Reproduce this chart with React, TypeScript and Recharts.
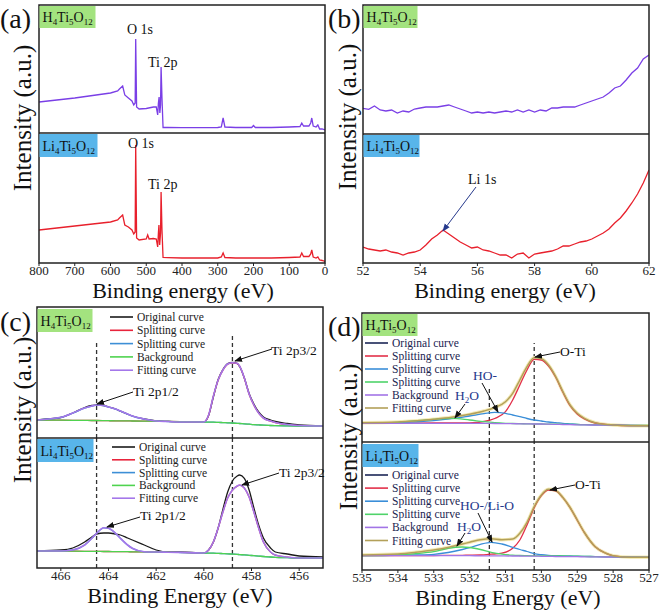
import { LineChart, Line, XAxis, YAxis, ReferenceLine } from 'recharts';

const SERIF = '"Liberation Serif", "Times New Roman", serif';

// ---------- (a) survey spectra ----------
const surveyEnergyH = [800, 750, 700, 650, 600, 580, 575, 566, 560, 550, 540, 535, 531, 529.5, 527, 520, 500, 480, 472, 468, 466, 464, 462, 460, 458.5, 456, 453, 440, 400, 300, 290, 285, 280, 250, 205, 200, 195, 150, 100, 70, 65, 60, 45, 40, 37, 33, 25, 20, 15, 8, 0];
const surveyH = [31, 33, 35, 37.5, 40, 42, 44, 47, 38, 35, 32, 28, 30, 94, 26, 24, 24.5, 26, 26, 18, 30, 36, 20, 28, 66, 35, 5.5, 5.5, 5.3, 5.5, 6, 15, 6, 5.5, 5.5, 7.5, 5.5, 5.5, 6, 6.5, 10, 7, 7, 10, 15, 7, 6, 8, 4, 4, 3];
const surveyEnergyL = [800, 750, 700, 650, 600, 580, 575, 566, 560, 550, 540, 535, 531, 529.5, 527, 520, 500, 496, 492, 480, 472, 468, 466, 464.5, 462.5, 460, 458.5, 456, 453, 440, 400, 300, 290, 285, 280, 250, 150, 100, 70, 65, 60, 45, 40, 37, 33, 25, 20, 15, 8, 0];
const surveyL = [33, 35, 37, 39, 41, 43, 45, 48, 38, 36, 33, 29, 31, 118, 25, 23, 24, 28, 24, 24.5, 24, 16, 30, 38, 18, 30, 71, 33, 5.5, 5.3, 5, 5, 6, 10, 5.5, 5, 5, 5.5, 6, 10, 6.5, 6.5, 9, 13, 6, 5, 6, 3, 2.5, 1.5];
const surveyTicks = [800, 700, 600, 500, 400, 300, 200, 100, 0];

// ---------- (b) Li 1s region ----------
const li1sEnergy = [52, 52.2, 52.4, 52.6, 52.8, 53, 53.2, 53.4, 53.6, 53.8, 54, 54.2, 54.4, 54.6, 54.8, 55, 55.2, 55.4, 55.6, 55.8, 56, 56.2, 56.4, 56.6, 56.8, 57, 57.2, 57.4, 57.6, 57.8, 58, 58.2, 58.4, 58.6, 58.8, 59, 59.2, 59.4, 59.6, 59.8, 60, 60.2, 60.4, 60.6, 60.8, 61, 61.2, 61.4, 61.6, 61.8, 62];
const li1sH = [25.7, 24.7, 28, 24, 23, 24, 21, 23, 22, 25, 26, 27, 27, 27, 28, 29, 27, 25, 23, 21, 22, 21, 22, 21, 22, 23, 22, 24, 22, 24, 22, 24, 23, 26, 26, 27, 27, 27, 29, 31, 33, 35, 37, 41, 46, 48, 54, 61, 66, 75, 79];
const li1sL = [16, 14, 13, 12, 13, 11, 10, 8, 10, 11, 13, 18, 24, 28, 33, 29, 25, 21, 18, 15, 16, 13, 12, 10, 8, 8, 5, 9, 10, 5, 9, 10, 11, 12, 14, 17, 17, 19, 21, 22, 24, 27, 30, 34, 40, 45, 52, 60, 69, 80, 93];
const li1sTicks = [52, 54, 56, 58, 60, 62];

// ---------- (c) Ti 2p ----------
const ti2pEnergy = [467, 466, 465.5, 465, 464.7, 464.5, 464.2, 464, 463.7, 463.5, 463.2, 463, 462.5, 462, 461.5, 461, 460, 459.8, 459.6, 459.4, 459.2, 459, 458.8, 458.6, 458.5, 458.3, 458.1, 457.9, 457.7, 457.5, 457.2, 457, 456.5, 456, 455];
const ti2pOrigH = [18.2, 20.5, 25, 30.5, 32.5, 33.2, 32.5, 31, 29, 26.8, 23.8, 22, 19, 17.2, 16.6, 16.2, 16, 22.5, 41, 58.5, 68.5, 74.5, 75.5, 74.5, 71.5, 60, 44.5, 34, 26, 21, 18, 16.5, 14.5, 13, 12.2];
const ti2pRedH = [18, 17.8, 17.7, 17.6, 17.5, 17.5, 17.4, 17.3, 17.2, 17.2, 17.1, 17, 16.9, 16.8, 16.6, 16.4, 16, 22.8, 41.8, 57.8, 67.8, 73.8, 75.1, 74.5, 71.8, 59.8, 43.8, 32.8, 24.8, 19.8, 16.8, 15.3, 13.3, 12.3, 12];
const ti2pBlueH = [18, 20.5, 24.8, 29.8, 31.8, 32.8, 32.3, 30.8, 28.8, 26.8, 23.8, 21.8, 18.8, 17, 16.5, 16.2, 16, 15.9, 15.8, 15.6, 15.4, 15.2, 15, 14.7, 14.5, 14.2, 13.8, 13.4, 13.1, 12.8, 12.5, 12.3, 12.1, 12, 12];
const ti2pBgH = [18, 17.8, 17.7, 17.6, 17.5, 17.5, 17.4, 17.3, 17.2, 17.2, 17.1, 17, 16.9, 16.8, 16.6, 16.4, 16, 15.9, 15.8, 15.6, 15.4, 15.2, 15, 14.7, 14.5, 14.2, 13.8, 13.4, 13.1, 12.8, 12.5, 12.3, 12.1, 12, 12];
const ti2pFitH = [18, 20.7, 25, 30, 32, 33, 32.5, 31, 29, 27, 24, 22, 19, 17, 16.5, 16, 16, 23, 42, 58, 68, 74, 75.3, 74.7, 72, 60, 44, 33, 25, 20, 17, 15.5, 13.5, 12.5, 12];
const ti2pOrigL = [17, 18, 20, 26, 31, 34, 35, 35, 34, 33, 30, 28, 23, 18, 16, 16, 15, 18, 26, 40, 58.7, 76, 87, 92, 93, 89.7, 78, 60, 43, 30, 20, 16, 14, 12, 11];
const ti2pRedL = [17, 16.9, 16.8, 16.7, 16.6, 16.6, 16.5, 16.5, 16.4, 16.4, 16.3, 16.2, 16.1, 16, 15.8, 15.6, 15, 17.9, 25.9, 39.9, 55.9, 69.9, 77.9, 81.9, 82.9, 79.9, 70.9, 55.9, 39.9, 25.9, 15.9, 12.9, 10.9, 10, 10];
const ti2pBlueL = [17, 17, 18, 22.9, 29.6, 34.6, 40.2, 39.6, 34.6, 29.6, 22.9, 19.6, 16.2, 15.9, 15.7, 15.5, 15, 14.9, 14.8, 14.6, 14.4, 14.2, 13.9, 13.6, 13.4, 13.1, 12.7, 12.3, 11.9, 11.5, 11, 10.7, 10.3, 10, 10];
const ti2pBgL = [17, 16.9, 16.8, 16.7, 16.6, 16.6, 16.5, 16.5, 16.4, 16.4, 16.3, 16.2, 16.1, 16, 15.8, 15.6, 15, 14.9, 14.8, 14.6, 14.4, 14.2, 13.9, 13.6, 13.4, 13.1, 12.7, 12.3, 11.9, 11.5, 11, 10.7, 10.3, 10, 10];
const ti2pFitL = [17, 17, 18, 23, 29.7, 34.7, 40.3, 39.7, 34.7, 29.7, 23, 19.7, 16.3, 16, 15.8, 15.6, 15, 18, 26, 40, 56, 70, 78, 82, 83, 80, 71, 56, 40, 26, 16, 13, 11, 10, 10];
const ti2pTicks = [466, 464, 462, 460, 458, 456];
const ti2pPeaks = [464.5, 458.8];

// ---------- (d) O 1s ----------
const o1sEnergyH = [535, 534, 533, 532.5, 532, 531.6, 531.3, 531, 530.8, 530.6, 530.4, 530.2, 530, 529.8, 529.6, 529.4, 529.2, 529, 528.8, 528.5, 528, 527.5, 527];
const o1sOrigH = [19.5, 20.2, 22.5, 24.5, 27.5, 31, 34.8, 40.8, 49.5, 62.5, 76, 84.6, 83, 76.5, 65, 50, 37.5, 29, 24, 19.6, 17.2, 16.4, 16.2];
const o1sRedH = [18.7, 18.8, 19, 19, 19.2, 20.5, 23.5, 30.3, 42, 57, 72, 82.7, 82, 76, 64.7, 49.7, 36.3, 28, 23, 19, 17, 16.3, 16.3];
const o1sBlueH = [18.7, 19.3, 21.3, 23.3, 26, 28.3, 29.7, 28.7, 27, 25.3, 23.5, 22, 21, 20, 19.4, 18.7, 18.2, 17.7, 17.4, 17.2, 17, 16.5, 16.3];
const o1sGreenH = [18.7, 19.7, 22.7, 23.7, 22, 20.3, 19.3, 18.7, 18.5, 18.3, 18.2, 18, 18, 17.9, 17.8, 17.7, 17.6, 17.5, 17.4, 17.2, 17, 16.7, 16.5];
const o1sBgH = [18.7, 18.7, 18.7, 18.7, 18.7, 18.6, 18.5, 18.4, 18.3, 18.2, 18.1, 18, 18, 17.8, 17.6, 17.5, 17.3, 17.2, 17.1, 17, 17, 16.5, 16.3];
const o1sFitH = [19.3, 20, 22.7, 24.7, 27.7, 31, 34.5, 40.3, 48.7, 62, 75.3, 84.3, 83.3, 77, 65.3, 50.3, 37, 28.7, 23.7, 19.3, 17, 16.3, 16.3];
const o1sEnergyL = [535, 534, 533.5, 533, 532.6, 532.2, 532, 531.7, 531.4, 531.1, 530.8, 530.6, 530.4, 530.2, 530, 529.8, 529.6, 529.4, 529.2, 529, 528.8, 528.5, 528.2, 528, 527.5, 527];
const o1sOrigL = [15.2, 16.1, 17.8, 20.2, 22.8, 26.3, 28, 30.6, 31.4, 30.4, 31.2, 37, 48, 63.8, 75.5, 81, 79.8, 72.8, 62.8, 50.3, 37.8, 23.6, 16.9, 14.4, 12.8, 12.7];
const o1sRedL = [14.3, 14.3, 14.4, 14.5, 14.6, 14.7, 14.8, 15, 15.8, 16.8, 21.7, 30, 45, 62.3, 74.3, 80, 79.2, 72.3, 62.3, 49.8, 37.3, 23.2, 16.6, 14.2, 12.7, 12.7];
const o1sBlueL = [14.3, 14.6, 15, 15.7, 17.5, 20.5, 22.3, 25.7, 27.7, 26, 22.7, 20.5, 18.5, 16.3, 15.3, 14.7, 14.4, 14.2, 14, 13.8, 13.6, 13.4, 13.2, 13, 12.8, 12.7];
const o1sGreenL = [14.3, 15, 16.3, 18.3, 21.7, 23, 22.5, 20.5, 17.7, 15.8, 14.8, 14.5, 14.3, 14.2, 14.2, 14.1, 14, 14, 13.9, 13.8, 13.6, 13.4, 13.2, 13, 12.8, 12.7];
const o1sBgL = [14.3, 14.3, 14.3, 14.3, 14.3, 14.3, 14.3, 14.2, 14.2, 14.1, 14, 14, 13.9, 13.9, 13.7, 13.6, 13.5, 13.4, 13.4, 13.3, 13.2, 13.1, 13, 13, 12.8, 12.7];
const o1sFitL = [15, 16, 17.7, 20, 22.5, 26, 27.7, 30.3, 31.2, 30.2, 31, 36.7, 47.7, 63.3, 75, 80.7, 79.5, 72.5, 62.5, 50, 37.5, 23.3, 16.7, 14.3, 12.7, 12.7];
const o1sTicks = [535, 534, 533, 532, 531, 530, 529, 528, 527];
const o1sPeaks = [531.45, 530.2];

const legendC = ['Original curve', 'Splitting curve', 'Splitting curve', 'Background', 'Fitting curve'];
const legendD = ['Original curve', 'Splitting curve', 'Splitting curve', 'Splitting curve', 'Background', 'Fitting curve'];

const PURPLE = '#7a3fe6';
const RED = '#e8202c';
const C_COLORS = ['#1a1a1a', '#e8243c', '#3d8fd6', '#4fd34f', '#a477ea'];
const D_COLORS = ['#1b2656', '#e2304a', '#3a8ed8', '#4fd36a', '#a274e6', '#b3a059'];
const GREEN_BADGE = '#a3e37f';
const BLUE_BADGE = '#58b5ea';
const NAVY = '#26398c';

type Series = { key: string; values: number[]; color: string; width?: number };
type RefSeg = { x: number; y1: number; y2: number };

const PAD = 20;

const Spectrum = ({
  left, top, width, height, energies, series, domain, ticks, refs, curve, reversed = true,
}: {
  left: number; top: number; width: number; height: number; energies: number[];
  series: Series[]; domain: [number, number]; ticks?: number[]; refs?: RefSeg[];
  curve: 'linear' | 'monotone'; reversed?: boolean;
}) => {
  const data = energies.map((e, i) => {
    const row: Record<string, number> = { e };
    series.forEach((s) => { row[s.key] = s.values[i]; });
    return row;
  });
  const axisH = ticks ? 24 : 0;
  return (
    <div style={{ position: 'absolute', left: left - PAD, top }}>
      <LineChart width={width + PAD * 2} height={height + axisH} data={data}
        margin={{ top: 0, right: PAD, bottom: 0, left: PAD }}>
        <XAxis dataKey="e" type="number" domain={domain} reversed={reversed} allowDataOverflow
          hide={!ticks} ticks={ticks} interval={0} height={axisH} axisLine={false}
          tickLine={{ stroke: '#222' }} tickSize={3} tickMargin={0}
          tick={{ fontSize: 13, fill: '#222', fontFamily: SERIF }} />
        <YAxis hide domain={[0, height]} allowDataOverflow />
        {refs?.map((r, i) => (
          <ReferenceLine key={i} segment={[{ x: r.x, y: r.y1 }, { x: r.x, y: r.y2 }]}
            stroke="#333" strokeWidth={1.3} strokeDasharray="4 3" />
        ))}
        {series.map((s) => (
          <Line key={s.key} dataKey={s.key} type={curve} stroke={s.color}
            strokeWidth={s.width ?? 1.3} dot={false} activeDot={false} isAnimationActive={false} />
        ))}
      </LineChart>
    </div>
  );
};

const Formula = ({ x, y, name, size = 14 }: { x: number; y: number; name: 'H' | 'Li'; size?: number }) => (
  <text x={x} y={y} fontSize={size} fill="#111">
    {name}<tspan fontSize={size * 0.64} dy={3}>4</tspan>
    <tspan dy={-3}>Ti</tspan><tspan fontSize={size * 0.64} dy={3}>5</tspan>
    <tspan dy={-3}>O</tspan><tspan fontSize={size * 0.64} dy={3}>12</tspan>
  </text>
);

const Badge = ({ x, y, w, h, name }: { x: number; y: number; w: number; h: number; name: 'H' | 'Li' }) => (
  <g>
    <rect x={x} y={y} width={w} height={h} fill={name === 'H' ? GREEN_BADGE : BLUE_BADGE} />
    <Formula x={x + 3} y={y + h - 6} name={name} />
  </g>
);

const Legend = ({ x, y0, step, labels, colors, text }: {
  x: number; y0: number; step: number; labels: string[]; colors: string[]; text: string;
}) => (
  <g>
    {labels.map((l, i) => (
      <g key={i}>
        <line x1={x} x2={x + 23} y1={y0 + i * step} y2={y0 + i * step} stroke={colors[i]} strokeWidth={1.6} />
        <text x={x + 27} y={y0 + i * step + 4} fontSize={11.5} fill={text}>{l}</text>
      </g>
    ))}
  </g>
);

const Arrow = ({ x1, y1, x2, y2, navy }: { x1: number; y1: number; x2: number; y2: number; navy?: boolean }) => (
  <line x1={x1} y1={y1} x2={x2} y2={y2} stroke={navy ? NAVY : '#111'} strokeWidth={1}
    markerEnd={navy ? 'url(#ahn)' : 'url(#ah)'} />
);

export default function App() {
  return (
    <div style={{ position: 'absolute', left: 0, top: 0, width: 661, height: 613, background: '#fff', fontFamily: SERIF }}>
      {/* (a) */}
      <Spectrum left={39} top={5} width={286} height={128} energies={surveyEnergyH} domain={[0, 800]} curve="linear"
        series={[{ key: 'h', values: surveyH, color: PURPLE }]} />
      <Spectrum left={39} top={133} width={286} height={130} energies={surveyEnergyL} domain={[0, 800]} curve="linear"
        ticks={surveyTicks} series={[{ key: 'l', values: surveyL, color: RED }]} />
      {/* (b) */}
      <Spectrum left={363} top={5} width={286} height={129} energies={li1sEnergy} domain={[52, 62]} curve="linear"
        reversed={false} series={[{ key: 'h', values: li1sH, color: PURPLE }]} />
      <Spectrum left={363} top={134} width={286} height={129} energies={li1sEnergy} domain={[52, 62]} curve="linear"
        reversed={false} ticks={li1sTicks} series={[{ key: 'l', values: li1sL, color: RED }]} />
      {/* (c) */}
      <Spectrum left={37} top={307} width={286} height={131} energies={ti2pEnergy} domain={[455, 467]} curve="monotone"
        refs={[{ x: ti2pPeaks[0], y1: 0, y2: 98 }, { x: ti2pPeaks[1], y1: 0, y2: 105 }]}
        series={[ti2pOrigH, ti2pRedH, ti2pBlueH, ti2pBgH, ti2pFitH].map((v, i) => ({
          key: 's' + i, values: v, color: C_COLORS[i], width: i === 4 ? 1.6 : 1.3,
        }))} />
      <Spectrum left={37} top={438} width={286} height={130} energies={ti2pEnergy} domain={[455, 467]} curve="monotone"
        ticks={ti2pTicks}
        refs={[{ x: ti2pPeaks[0], y1: 0, y2: 130 }, { x: ti2pPeaks[1], y1: 0, y2: 130 }]}
        series={[ti2pOrigL, ti2pRedL, ti2pBlueL, ti2pBgL, ti2pFitL].map((v, i) => ({
          key: 's' + i, values: v, color: C_COLORS[i], width: i === 4 ? 1.6 : 1.3,
        }))} />
      {/* (d) */}
      <Spectrum left={362} top={313} width={287} height={129} energies={o1sEnergyH} domain={[527, 535]} curve="monotone"
        refs={[{ x: o1sPeaks[0], y1: 0, y2: 54 }, { x: o1sPeaks[1], y1: 0, y2: 99 }]}
        series={[
          { key: 'o', values: o1sOrigH, color: D_COLORS[0] },
          { key: 'halo', values: o1sFitH, color: '#f4ebb8', width: 3.4 },
          { key: 'r', values: o1sRedH, color: D_COLORS[1] },
          { key: 'b', values: o1sBlueH, color: D_COLORS[2] },
          { key: 'g', values: o1sGreenH, color: D_COLORS[3] },
          { key: 'bg', values: o1sBgH, color: D_COLORS[4] },
          { key: 'f', values: o1sFitH, color: D_COLORS[5], width: 1.5 },
        ]} />
      <Spectrum left={362} top={442} width={287} height={128} energies={o1sEnergyL} domain={[527, 535]} curve="monotone"
        ticks={o1sTicks}
        refs={[{ x: o1sPeaks[0], y1: 0, y2: 128 }, { x: o1sPeaks[1], y1: 0, y2: 128 }]}
        series={[
          { key: 'o', values: o1sOrigL, color: D_COLORS[0] },
          { key: 'halo', values: o1sFitL, color: '#f4ebb8', width: 3.4 },
          { key: 'r', values: o1sRedL, color: D_COLORS[1] },
          { key: 'b', values: o1sBlueL, color: D_COLORS[2] },
          { key: 'g', values: o1sGreenL, color: D_COLORS[3] },
          { key: 'bg', values: o1sBgL, color: D_COLORS[4] },
          { key: 'f', values: o1sFitL, color: D_COLORS[5], width: 1.5 },
        ]} />

      <svg width={661} height={613} style={{ position: 'absolute', left: 0, top: 0, pointerEvents: 'none' }}
        fontFamily={SERIF}>
        <defs>
          <marker id="ah" markerWidth={8} markerHeight={8} refX={7} refY={4} orient="auto" markerUnits="userSpaceOnUse">
            <path d="M0,1 L8,4 L0,7 z" fill="#111" />
          </marker>
          <marker id="ahn" markerWidth={8} markerHeight={8} refX={7} refY={4} orient="auto" markerUnits="userSpaceOnUse">
            <path d="M0,1 L8,4 L0,7 z" fill={NAVY} />
          </marker>
        </defs>

        {/* frames */}
        <g fill="none" stroke="#222" strokeWidth={1.5}>
          <rect x={39} y={5} width={286} height={258} />
          <line x1={39} x2={325} y1={133} y2={133} />
          <rect x={363} y={5} width={286} height={258} />
          <line x1={363} x2={649} y1={134} y2={134} />
          <rect x={37} y={307} width={286} height={261} />
          <line x1={37} x2={323} y1={438} y2={438} />
          <rect x={362} y={313} width={287} height={257} />
          <line x1={362} x2={649} y1={442} y2={442} />
        </g>

        {/* panel letters */}
        <g fontSize={28} fill="#111">
          <text x={0} y={28}>(a)</text>
          <text x={328} y={28}>(b)</text>
          <text x={0} y={331}>(c)</text>
          <text x={328} y={336}>(d)</text>
        </g>

        {/* axis titles */}
        <g fontSize={25} fill="#111" textAnchor="middle">
          <text transform="translate(31,118) rotate(-90)">Intensity (a.u.)</text>
          <text transform="translate(356,117) rotate(-90)">Intensity (a.u.)</text>
          <text transform="translate(31,410) rotate(-90)">Intensity (a.u.)</text>
          <text transform="translate(357,437) rotate(-90)">Intensity (a.u.)</text>
        </g>
        <g fontSize={22} fill="#111" textAnchor="middle">
          <text x={183} y={298}>Binding energy (eV)</text>
          <text x={505} y={298}>Binding energy (eV)</text>
          <text x={180} y={603}>Binding Energy (eV)</text>
          <text x={508} y={605}>Binding Energy (eV)</text>
        </g>

        {/* badges */}
        <Badge x={39.5} y={6} w={56} h={22} name="H" />
        <Badge x={39.5} y={134} w={58} h={23} name="Li" />
        <Badge x={363.5} y={6} w={54} h={22} name="H" />
        <Badge x={363.5} y={135} w={56} h={22} name="Li" />
        <Badge x={37.5} y={309} w={55} h={23} name="H" />
        <Badge x={37.5} y={439} w={56} h={23} name="Li" />
        <Badge x={362.5} y={314} w={55} h={22} name="H" />
        <Badge x={362.5} y={444} w={56} h={23} name="Li" />

        {/* (a) labels */}
        <g fontSize={14} fill="#111">
          <text x={127} y={34}>O 1s</text>
          <text x={148} y={67}>Ti 2p</text>
          <text x={128} y={148}>O 1s</text>
          <text x={148} y={189}>Ti 2p</text>
        </g>

        {/* (b) label */}
        <text x={468} y={184} fontSize={14} fill="#111">Li 1s</text>
        <Arrow x1={476} y1={187} x2={443} y2={231} navy />

        {/* (c) legends & labels */}
        <Legend x={110} y0={317} step={13.3} labels={legendC} colors={C_COLORS} text="#222" />
        <Legend x={112} y0={447} step={12.8} labels={legendC} colors={C_COLORS} text="#222" />
        <g fontSize={13.5} fill="#111">
          <text x={271} y={355}>Ti 2p3/2</text>
          <text x={133} y={396}>Ti 2p1/2</text>
          <text x={279} y={477}>Ti 2p3/2</text>
          <text x={140} y={520}>Ti 2p1/2</text>
        </g>
        <Arrow x1={272} y1={349} x2={235} y2={361} />
        <Arrow x1={133} y1={392} x2={97} y2={404} />
        <Arrow x1={279} y1={473} x2={242} y2={485} />
        <Arrow x1={140} y1={517} x2={107} y2={527} />

        {/* (d) legends & labels */}
        <Legend x={365} y0={343} step={13} labels={legendD} colors={D_COLORS} text="#1a2450" />
        <Legend x={365} y0={475} step={13.1} labels={legendD} colors={D_COLORS} text="#1a2450" />
        <g fontSize={13.5}>
          <text x={560} y={356} fill="#111">O-Ti</text>
          <text x={473} y={380} fill={NAVY}>HO-</text>
          <text x={455} y={400} fill={NAVY}>H<tspan fontSize={9} dy={3}>2</tspan><tspan dy={-3}>O</tspan></text>
          <text x={575} y={489} fill="#111">O-Ti</text>
          <text x={460} y={510} fill={NAVY}>HO-/Li-O</text>
          <text x={457} y={531} fill={NAVY}>H<tspan fontSize={9} dy={3}>2</tspan><tspan dy={-3}>O</tspan></text>
        </g>
        <Arrow x1={560} y1={352} x2={535} y2={357} />
        <Arrow x1={482} y1={383} x2={498} y2={412} />
        <Arrow x1={465} y1={404} x2={455} y2={418} />
        <Arrow x1={575} y1={485} x2={550} y2={490} />
        <Arrow x1={478} y1={513} x2={492} y2={542} />
        <Arrow x1={465} y1={533} x2={457} y2={546} />
      </svg>
    </div>
  );
}
